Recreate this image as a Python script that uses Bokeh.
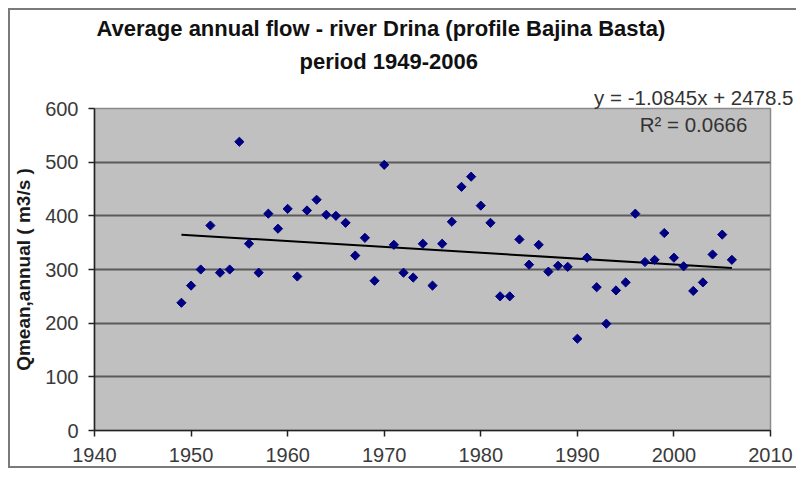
import numpy as np
from bokeh.plotting import figure
from bokeh.models import Label, FixedTicker, ColumnDataSource, Range1d, Title
from bokeh.embed import file_html
from bokeh.resources import INLINE

# ---- data ----
years = list(range(1949, 2007))
flow = [238, 270, 300, 382, 294, 300, 538, 348, 294, 404,
        376, 413, 287, 410, 430, 402, 400, 387, 326, 359,
        279, 495, 346, 294, 285, 348, 270, 348, 389, 454,
        473, 419, 387, 250, 250, 356, 309, 346, 296, 307,
        305, 171, 322, 267, 199, 261, 276, 404, 314, 318,
        368, 322, 306, 260, 276, 328, 365, 318]
trend_slope = -1.0845
trend_intercept = 2478.5
x_ticks = [1940, 1950, 1960, 1970, 1980, 1990, 2000, 2010]
y_ticks = [0, 100, 200, 300, 400, 500, 600]
title_lines = ["Average annual flow - river Drina (profile Bajina Basta)",
               "period 1949-2006"]
eq_text = "y = -1.0845x + 2478.5"
r2_text = "R\u00b2 = 0.0666"
y_label = "Qmean,annual ( m3/s )"

FONT = "Liberation Sans"

p = figure(width=788, height=460,
           x_range=Range1d(1940, 2010), y_range=Range1d(0, 600),
           output_backend="svg", toolbar_location=None,
           min_border_left=83, min_border_right=28,
           min_border_top=98, min_border_bottom=40,
           background_fill_color="#c0c0c0", border_fill_color="white")
p.styles = {"margin-left": "8px", "margin-top": "8px",
            "border-left": "2px solid #7a7a7a",
            "border-top": "2px solid #7a7a7a",
            "border-bottom": "2px solid #7a7a7a"}

p.outline_line_color = "#8a8a8a"
p.outline_line_width = 1.5

# grid
p.xgrid.grid_line_color = None
p.ygrid.grid_line_color = "#5a5a5a"
p.ygrid.grid_line_width = 2
p.ygrid.ticker = FixedTicker(ticks=y_ticks)

# axes
for ax in (p.xaxis[0], p.yaxis[0]):
    ax.axis_line_color = "#222222"
    ax.axis_line_width = 1.5
    ax.major_tick_line_color = "#222222"
    ax.major_tick_line_width = 1.5
    ax.major_tick_out = 6
    ax.major_tick_in = 0
    ax.minor_tick_line_color = None
    ax.major_label_text_font = FONT
    ax.major_label_text_font_size = "20px"
    ax.major_label_text_color = "#3a3a3a"

p.xaxis.ticker = FixedTicker(ticks=x_ticks)
p.yaxis.ticker = FixedTicker(ticks=y_ticks)
p.xaxis.major_label_standoff = 11
p.yaxis.major_label_standoff = 10
p.yaxis.axis_label = y_label
p.yaxis.axis_label_text_font = FONT
p.yaxis.axis_label_text_font_size = "19px"
p.yaxis.axis_label_text_font_style = "bold"
p.yaxis.axis_label_text_color = "#1a1a1a"
p.yaxis.axis_label_standoff = 8

# trend line
tx = [years[0], years[-1]]
ty = [trend_slope * v + trend_intercept for v in tx]
p.line(tx, ty, line_color="black", line_width=2)

# points
src = ColumnDataSource(dict(x=years, y=flow))
p.scatter("x", "y", source=src, marker="square", angle=np.pi / 4,
          size=6.5, fill_color="#000080", line_color="#000080")

# regression equation (above panel, nearest the frame)
p.add_layout(Title(text=eq_text, align="right", offset=-23, standoff=0,
                   text_font=FONT, text_font_size="20.5px", text_font_style="normal",
                   text_color="#333333"), "above")
# title lines
p.add_layout(Title(text=title_lines[1], align="left", offset=205, standoff=20,
                   text_font=FONT, text_font_size="22px", text_font_style="bold",
                   text_color="#111111"), "above")
p.add_layout(Title(text=title_lines[0], align="left", offset=2, standoff=-8,
                   text_font=FONT, text_font_size="22px", text_font_style="bold",
                   text_color="#111111"), "above")

# R^2 inside plot area
p.add_layout(Label(x=599, y=306, x_units="screen", y_units="screen",
                   text=r2_text, text_align="center", text_baseline="middle",
                   text_font=FONT, text_font_size="20.5px", text_color="#333333"))

open("out.html", "w").write(file_html(p, INLINE))
